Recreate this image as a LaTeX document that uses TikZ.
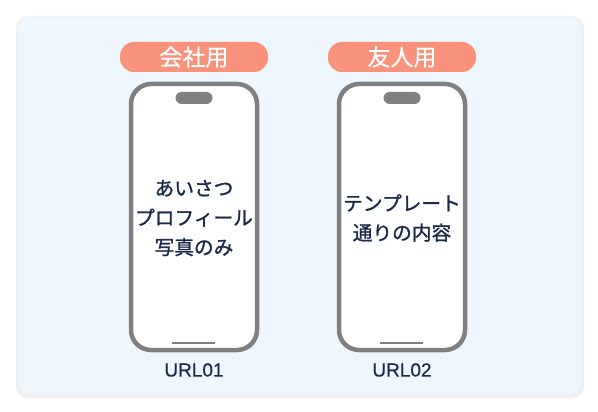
\documentclass[tikz,border=0pt]{standalone}
\usepackage{fontspec}
\setmainfont{Noto Sans CJK JP}
\newfontfamily\medfont{Noto Sans CJK JP}[FakeBold=1.2]
\newfontfamily\badgefont{Noto Sans CJK JP}[FakeBold=0.6]
\newfontfamily\latinfont{Liberation Sans}[FakeBold=0.4]
\definecolor{bgc}{HTML}{EDF7FD}
\definecolor{badgec}{HTML}{F8927A}
\definecolor{phonec}{HTML}{808080}
\definecolor{txtc}{HTML}{1B2A4A}
\tikzset{
  badge/.style={fill=badgec, rounded corners=14pt, minimum width=148pt, minimum height=30pt, text=white, font=\badgefont\fontsize{23pt}{26pt}\selectfont, inner sep=0pt},
  phone/.style={draw=phonec, line width=4.5pt, fill=white, rounded corners=20pt, minimum width=126pt, minimum height=266pt, inner sep=0pt},
  notch/.style={fill=phonec, rounded corners=6pt, minimum width=37pt, minimum height=12pt, inner sep=0pt},
  homebar/.style={draw=phonec, line width=2pt},
  body/.style={text=txtc, font=\medfont\fontsize{19.7pt}{29.5pt}\selectfont, align=center},
  url/.style={text=txtc, font=\latinfont\fontsize{19pt}{22pt}\selectfont}
}
\begin{document}
\begin{tikzpicture}[x=1pt,y=-1pt]
\useasboundingbox (0,0) rectangle (598,412);
\fill[white] (0,0) rectangle (598,412);
\fill[black!6, rounded corners=12pt] (16,16) rectangle (584,398);
\fill[bgc, rounded corners=11pt] (18,17) rectangle (581,394);
% phone 1
\node[badge] (b1) at (194,57) {会社用};
\node[phone] (p1) at (194,217) {};
\node[notch] (n1) at (194,98) {};
\coordinate (h1a) at (172,343);
\coordinate (h1b) at (215,343);
\draw[homebar] (h1a) -- (h1b);
\node[body] (t1) at (194,218) {あいさつ\\プロフィール\\写真のみ};
\node[url] (u1) at (194,370) {URL01};
% phone 2
\node[badge] (b2) at (402,57) {友人用};
\node[phone] (p2) at (402,217) {};
\node[notch] (n2) at (402,98) {};
\coordinate (h2a) at (380,343);
\coordinate (h2b) at (423,343);
\draw[homebar] (h2a) -- (h2b);
\node[body] (t2) at (402,218) {テンプレート\\通りの内容};
\node[url] (u2) at (402,370) {URL02};
\end{tikzpicture}
\end{document}
